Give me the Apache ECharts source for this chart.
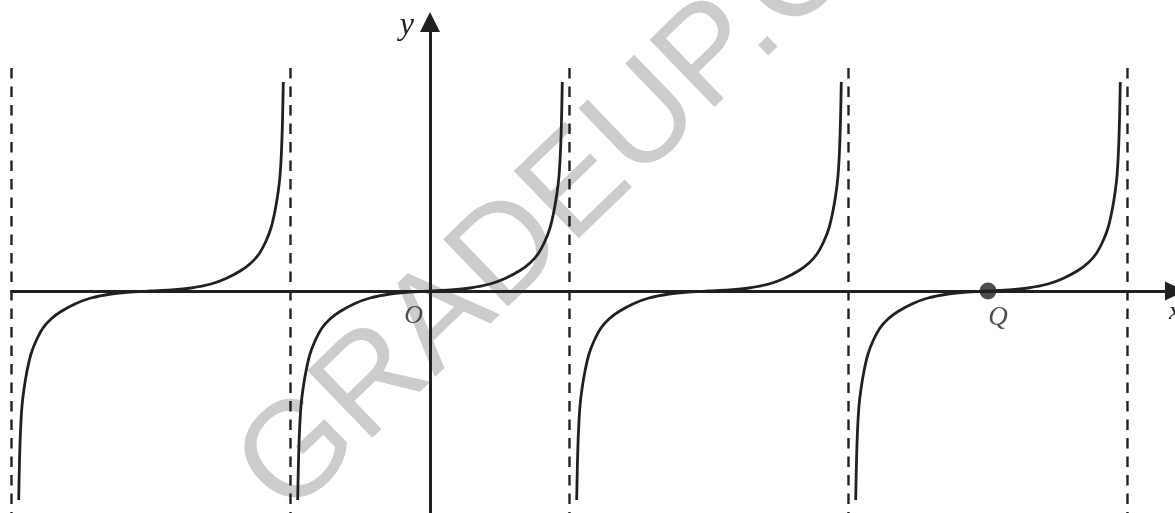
<!DOCTYPE html>
<html>
<head>
<meta charset="utf-8">
<script src="https://cdn.jsdelivr.net/npm/echarts@6/dist/echarts.min.js"></script>
<style>
html,body{margin:0;padding:0;background:#fff;}
#chart{width:1175px;height:513px;}
</style>
</head>
<body>
<div id="chart"></div>
<script>
// x in units of pi, y in arbitrary units
const branchCenters = [-1, 0, 1, 2];
const asymptoteX = [-1.5, -0.5, 0.5, 1.5, 2.5];
const asymptoteY = [2.23, -2.22];
// one half-branch (offset from branch centre, height)
const shapeDx = [0, 0.0717, 0.1434, 0.2151, 0.2688, 0.3226, 0.3584, 0.3871, 0.4122, 0.4301, 0.4444, 0.4552, 0.4624, 0.4677, 0.4713, 0.4742];
const shapeY  = [0, 0.010, 0.030, 0.070, 0.125, 0.205, 0.280, 0.370, 0.500, 0.630, 0.800, 0.980, 1.150, 1.400, 1.700, 2.090];
const pointQ = [2, 0];
const labelO = 'O';
const labelQ = 'Q';
const axisNameX = 'x';
const axisNameY = 'y';
const watermark = 'GRADEUP.COM';

const INK = '#231f20';

function branchData(c) {
  const d = [];
  for (let i = shapeDx.length - 1; i > 0; i--) d.push([c - shapeDx[i], -shapeY[i]]);
  for (let i = 0; i < shapeDx.length; i++) d.push([c + shapeDx[i], shapeY[i]]);
  return d;
}

const series = [];
asymptoteX.forEach(function (ax) {
  series.push({
    type: 'line', data: [[ax, asymptoteY[0]], [ax, asymptoteY[1]]],
    symbol: 'none', silent: true,
    lineStyle: { color: INK, width: 2.4, type: [10.5, 8] }
  });
});
branchCenters.forEach(function (c) {
  series.push({
    type: 'line', data: branchData(c), symbol: 'none', smooth: 0.35,
    lineStyle: { color: INK, width: 2.8 }, z: 3
  });
});
series.push({
  type: 'scatter', data: [[0, 0]], symbolSize: 0, silent: true,
  label: {
    show: true, formatter: labelO, position: [-7, 12], align: 'right', verticalAlign: 'top',
    fontFamily: 'Liberation Serif', fontStyle: 'italic', fontSize: 26, color: INK
  }
});
series.push({
  type: 'scatter', data: [pointQ], symbolSize: 17, itemStyle: { color: INK }, z: 5,
  label: {
    show: true, formatter: labelQ, position: 'bottom', distance: 5, offset: [10, 0],
    fontFamily: 'Liberation Serif', fontStyle: 'italic', fontSize: 27, color: INK
  }
});

const chart = echarts.init(document.getElementById('chart'), null, { renderer: 'canvas' });
chart.setOption({
  animation: false,
  backgroundColor: '#ffffff',
  grid: { left: 11.5, right: 0, top: 22, bottom: 0, containLabel: false, outerBoundsMode: 'none' },
  xAxis: {
    type: 'value', min: -1.5, max: 2.6703,
    name: axisNameX, nameLocation: 'end', nameGap: -6,
    nameTextStyle: { fontFamily: 'Liberation Serif', fontStyle: 'italic', fontSize: 26, color: INK, verticalAlign: 'top', padding: [8, 0, 0, 0] },
    axisLine: { onZero: true, symbol: ['none', 'triangle'], symbolSize: [19, 20], lineStyle: { color: INK, width: 3 } },
    axisTick: { show: false }, axisLabel: { show: false }, splitLine: { show: false }
  },
  yAxis: {
    type: 'value', min: -2.22, max: 2.69,
    name: axisNameY, nameLocation: 'end', nameGap: -20,
    nameTextStyle: { fontFamily: 'Liberation Serif', fontStyle: 'italic', fontSize: 32, color: INK, align: 'right', padding: [0, 16, 0, 0] },
    axisLine: { onZero: true, symbol: ['none', 'triangle'], symbolSize: [20, 20], lineStyle: { color: INK, width: 3 } },
    axisTick: { show: false }, axisLabel: { show: false }, splitLine: { show: false }
  },
  graphic: [{
    type: 'text', x: 262, y: 492, rotation: 44 * Math.PI / 180, z: -10, silent: true,
    style: { text: watermark, fill: '#cccccc', fontFamily: 'Liberation Sans', fontSize: 136, align: 'left', verticalAlign: 'middle' }
  }],
  series: series
});
</script>
</body>
</html>
